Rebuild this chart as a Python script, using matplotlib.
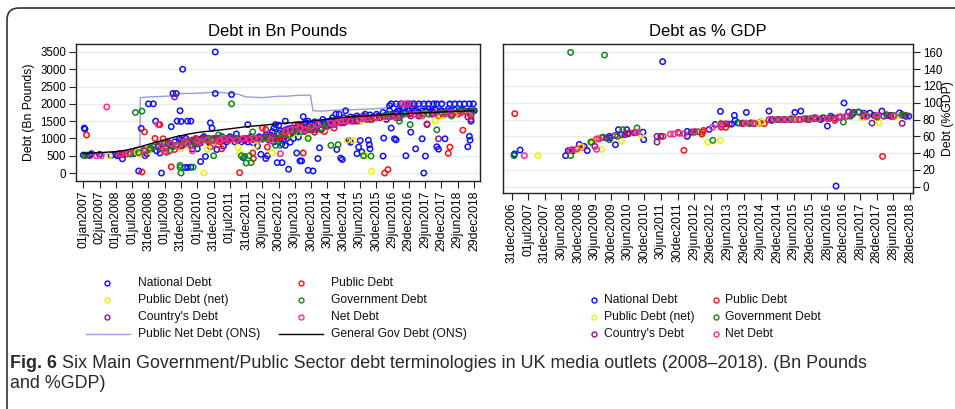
import numpy as np
import pandas as pd
import matplotlib
matplotlib.use('Agg')
import matplotlib.pyplot as plt
from matplotlib.lines import Line2D
from matplotlib.patches import FancyBboxPatch

plt.rcParams['font.family'] = ['Liberation Sans', 'DejaVu Sans']

# ---- data (decimal years) ----
left_ticks = ['01jan2007', '02jul2007', '01jan2008', '01jul2008', '31dec2008', '01jul2009',
              '31dec2009', '01jul2010', '31dec2010', '01jul2011', '31dec2011', '30jun2012',
              '30dec2012', '30jun2013', '30dec2013', '30jun2014', '30dec2014', '30jun2015',
              '30dec2015', '29jun2016', '29dec2016', '29jun2017', '29dec2017', '29jun2018',
              '29dec2018']
right_ticks = ['31dec2006', '01jul2007', '31dec2007', '30jun2008', '30dec2008', '30jun2009',
               '30dec2009', '30jun2010', '30dec2010', '30jun2011', '30dec2011', '29jun2012',
               '29dec2012', '29jun2013', '29dec2013', '29jun2014', '29dec2014', '29jun2015',
               '29dec2015', '28jun2016', '28dec2016', '28jun2017', '28dec2017', '28jun2018',
               '28dec2018']

# Debt in Bn Pounds
bn_national = [
    (2007.03, 1300), (2007.05, 1270), (2007.0, 520), (2007.2, 520), (2007.25, 560), (2007.5, 540),
    (2007.85, 510), (2008.0, 530), (2008.05, 500), (2008.15, 530), (2008.2, 410), (2008.45, 550),
    (2008.55, 560), (2008.7, 60), (2008.78, 1290), (2008.85, 640), (2008.95, 560), (2009.0, 2000),
    (2009.15, 2000), (2009.22, 1500), (2009.33, 1400), (2009.4, 0), (2009.35, 580), (2009.5, 760),
    (2009.6, 830), (2009.7, 1340), (2009.75, 2300), (2009.85, 2300), (2009.88, 1500), (2009.95, 1000),
    (2009.97, 1800), (2010.0, 1490), (2010.05, 3000), (2010.1, 870), (2010.12, 160), (2010.2, 1500),
    (2010.2, 160), (2010.3, 1500), (2010.3, 170), (2010.35, 700), (2010.4, 850), (2010.5, 700),
    (2010.55, 940), (2010.6, 330), (2010.7, 1000), (2010.75, 480), (2010.85, 900), (2010.9, 1450),
    (2010.95, 1300), (2011.05, 3500), (2011.05, 2300), (2011.1, 680), (2011.15, 950), (2011.3, 780),
    (2011.4, 900), (2011.55, 2270), (2011.7, 1130), (2011.85, 900), (2011.9, 450), (2012.05, 1400),
    (2012.1, 1000), (2012.2, 880), (2012.35, 780), (2012.45, 540), (2012.6, 420), (2012.65, 500),
    (2012.7, 950), (2012.8, 1200), (2012.85, 1300), (2012.9, 1400), (2012.95, 300), (2013.0, 1380),
    (2013.05, 1220), (2013.1, 300), (2013.15, 980), (2013.2, 1500), (2013.3, 110), (2013.35, 890),
    (2013.45, 1250), (2013.55, 580), (2013.6, 1040), (2013.65, 350), (2013.7, 350), (2013.75, 1630),
    (2013.85, 1450), (2013.9, 80), (2013.95, 1350), (2014.05, 60), (2014.1, 1480), (2014.2, 420),
    (2014.25, 730), (2014.3, 1300), (2014.45, 1380), (2014.6, 1520), (2014.75, 1700), (2014.78, 680),
    (2014.85, 1700), (2014.9, 430), (2014.95, 390), (2015.05, 1800), (2015.15, 940), (2015.2, 890),
    (2015.25, 1500), (2015.4, 560), (2015.45, 750), (2015.5, 940), (2015.55, 610), (2015.65, 1700),
    (2015.75, 950), (2015.78, 820), (2015.8, 700), (2015.85, 1600), (2016.2, 490), (2016.22, 1010),
    (2016.3, 1550), (2016.4, 1950), (2016.45, 2000), (2016.45, 1300), (2016.55, 990), (2016.6, 960),
    (2016.7, 1800), (2016.85, 1900), (2016.9, 500), (2017.0, 2000), (2017.05, 1180), (2017.1, 1850),
    (2017.2, 700), (2017.3, 2000), (2017.4, 990), (2017.45, 0), (2017.5, 490), (2017.6, 2000),
    (2017.7, 1800), (2017.85, 760), (2017.9, 690), (2018.0, 2000), (2018.1, 990), (2018.2, 1850),
    (2018.4, 2000), (2018.55, 1800), (2018.7, 2000), (2018.8, 760), (2018.85, 1060), (2018.87, 950),
    (2018.9, 1500), (2018.95, 1780), (2018.97, 2000),
    (2009.3, 750), (2009.45, 820), (2009.6, 880), (2009.8, 900), (2010.0, 950), (2010.15, 1000),
    (2010.35, 950), (2010.5, 980), (2010.7, 1050), (2010.85, 1000), (2011.0, 1000), (2011.2, 960),
    (2011.35, 1000), (2011.5, 1050), (2011.65, 900), (2011.8, 980), (2012.0, 1000), (2012.15, 1050),
    (2012.3, 1000), (2012.5, 980), (2012.6, 1050), (2012.75, 1100), (2012.85, 900), (2013.0, 1150),
    (2013.1, 1100), (2013.2, 1200), (2013.3, 1280), (2013.4, 1200), (2013.5, 1300), (2013.6, 1400),
    (2013.7, 1350), (2013.8, 1450), (2013.9, 1500), (2014.0, 1400), (2014.1, 1380), (2014.2, 1450),
    (2014.35, 1550), (2014.5, 1480), (2014.65, 1600), (2014.8, 1550), (2015.0, 1600), (2015.2, 1620),
    (2015.4, 1650), (2015.6, 1600), (2015.8, 1680), (2016.0, 1700), (2016.2, 1750), (2016.4, 1800),
    (2016.6, 1750), (2016.8, 1850), (2017.0, 1800), (2017.2, 1830), (2017.4, 1800), (2017.6, 1850),
    (2017.8, 1820), (2018.0, 1800), (2018.2, 1780), (2018.4, 1820), (2018.6, 1800), (2018.8, 1790),
    (2019.0, 1800), (2013.1, 850), (2013.2, 800), (2012.9, 1000), (2013.0, 900), (2013.15, 1050),
    (2009.1, 700), (2009.25, 640), (2009.4, 700), (2009.55, 720), (2009.65, 800), (2009.75, 760),
    (2009.9, 820), (2010.05, 900), (2010.25, 880), (2010.4, 920), (2010.6, 870), (2010.65, 1000),
    (2010.8, 950), (2010.95, 900), (2011.05, 1000), (2011.15, 1000), (2011.25, 1050), (2011.45, 950),
    (2011.6, 1000), (2011.75, 950), (2011.95, 950), (2012.05, 900), (2012.25, 950), (2012.4, 1050),
    (2012.55, 1000), (2012.7, 1000), (2012.8, 1050), (2012.95, 1000), (2013.05, 1000), (2013.15, 1200),
    (2013.25, 1100), (2013.35, 1150), (2013.4, 1300), (2013.45, 1000), (2013.55, 1200), (2013.65, 1250),
    (2013.75, 1300), (2013.8, 1200), (2013.95, 1250), (2014.05, 1350), (2014.15, 1300), (2014.25, 1400),
    (2014.4, 1450), (2014.55, 1400), (2014.7, 1500), (2014.9, 1450), (2015.0, 1500), (2015.1, 1550),
    (2015.3, 1600), (2015.45, 1600), (2015.6, 1650), (2015.7, 1580), (2015.9, 1600), (2016.05, 1650),
    (2016.15, 1600), (2016.3, 1680), (2016.5, 1700), (2016.65, 1800), (2016.75, 1700), (2016.9, 1750),
    (2017.05, 1720), (2017.15, 1800), (2017.3, 1750), (2017.5, 1800), (2017.65, 1780), (2017.75, 1750),
    (2017.95, 1800), (2018.1, 1760), (2018.3, 1800), (2018.5, 1760), (2018.65, 1820), (2018.75, 1780),
    (2018.9, 1800), (2016.6, 2000), (2016.75, 2000), (2017.15, 2000), (2017.45, 2000), (2017.75, 2000),
    (2017.85, 2000), (2018.25, 2000), (2018.55, 2000), (2018.85, 2000),
]
bn_public = [
    (2007.1, 1100), (2008.1, 560), (2008.3, 540), (2008.6, 620), (2008.8, 30), (2008.85, 650),
    (2008.88, 1190), (2009.05, 680), (2009.2, 1000), (2009.35, 1400), (2009.45, 990), (2009.55, 600),
    (2009.6, 900), (2009.7, 180), (2009.8, 680), (2009.9, 820), (2010.15, 930), (2010.3, 870),
    (2010.45, 1000), (2010.55, 900), (2010.7, 1000), (2010.9, 760), (2011.0, 1000), (2011.2, 900),
    (2011.25, 700), (2011.5, 1000), (2011.7, 1000), (2011.8, 10), (2011.9, 980), (2012.1, 1000),
    (2012.2, 580), (2012.22, 420), (2012.4, 1000), (2012.5, 1300), (2012.6, 1260), (2012.65, 750),
    (2012.8, 1050), (2013.0, 1000), (2013.2, 1100), (2013.4, 1200), (2013.6, 1350), (2013.65, 1400),
    (2013.75, 580), (2013.9, 1300), (2014.1, 1250), (2014.4, 1200), (2014.7, 1300), (2015.5, 1500),
    (2015.6, 1600), (2016.25, 0), (2016.35, 100), (2016.6, 1600), (2017.0, 1700), (2017.55, 1420),
    (2017.9, 1650), (2018.2, 570), (2018.25, 750), (2018.5, 1700), (2018.65, 1240), (2018.9, 1650),
    (2010.9, 900), (2011.1, 950), (2011.35, 980), (2011.6, 1000), (2012.0, 1000), (2012.3, 950),
    (2012.55, 1000), (2012.7, 1000), (2012.9, 980), (2013.1, 1050), (2013.3, 1100), (2013.5, 1250),
    (2014.0, 1250), (2014.3, 1300), (2015.0, 1500), (2015.8, 1550), (2016.4, 1620), (2017.3, 1700),
    (2018.0, 1720),
]
bn_public_net = [
    (2007.8, 500), (2008.65, 600), (2008.75, 530), (2009.0, 620), (2009.5, 800), (2010.0, 700),
    (2010.25, 760), (2010.7, 0), (2010.8, 690), (2011.75, 750), (2011.8, 580), (2012.8, 590),
    (2012.3, 800), (2013.4, 1100), (2013.9, 1050), (2014.4, 1280), (2015.1, 950), (2015.3, 940),
    (2015.5, 1500), (2015.65, 500), (2015.85, 50), (2016.2, 1600), (2017.2, 1700), (2017.8, 1500),
    (2018.0, 1650), (2018.4, 1680), (2018.8, 1700),
    (2011.0, 900), (2012.6, 1000), (2013.6, 1150), (2014.9, 1500), (2015.9, 1550), (2016.6, 1650),
    (2017.5, 1720), (2018.2, 1700),
]
bn_government = [
    (2007.05, 500), (2007.1, 520), (2008.45, 560), (2008.6, 1750), (2008.8, 1790), (2008.7, 590),
    (2008.9, 650), (2009.05, 720), (2009.15, 760), (2009.3, 780), (2009.5, 850), (2009.65, 640),
    (2009.85, 800), (2009.97, 220), (2009.97, 160), (2010.0, 0), (2010.05, 800), (2010.2, 860),
    (2010.37, 170), (2010.5, 840), (2010.95, 950), (2011.0, 500), (2011.15, 1100), (2011.25, 1060),
    (2011.55, 2000), (2011.85, 500), (2011.95, 480), (2012.0, 290), (2012.1, 500), (2012.15, 300),
    (2012.2, 1190), (2012.35, 1000), (2012.6, 1000), (2012.9, 800), (2013.05, 800), (2013.3, 1100),
    (2013.5, 1250), (2013.7, 1200), (2013.9, 1000), (2014.0, 1280), (2014.3, 1300), (2014.6, 800),
    (2014.82, 820), (2014.8, 1500), (2015.1, 1560), (2015.3, 1500), (2015.6, 500), (2015.83, 490),
    (2016.0, 1600), (2016.4, 1700), (2016.7, 1500), (2017.03, 1400), (2017.3, 1650), (2017.6, 1700),
    (2017.85, 1250), (2018.0, 1750), (2018.3, 1650), (2018.7, 1780), (2018.95, 1790),
    (2009.4, 700), (2009.75, 780), (2010.1, 850), (2010.3, 900), (2010.65, 950), (2010.85, 1000),
    (2011.4, 980), (2011.7, 1000), (2012.45, 1000), (2012.7, 1050), (2012.95, 1100), (2013.15, 1150),
    (2013.45, 1200), (2013.85, 1250), (2014.15, 1300), (2014.45, 1400), (2015.25, 1520), (2015.75, 1600),
    (2016.2, 1650), (2016.85, 1700), (2017.45, 1720), (2018.15, 1760), (2018.55, 1790),
]
bn_country = [
    (2007.2, 500), (2008.2, 530), (2008.9, 500), (2009.3, 800), (2009.8, 2200), (2009.6, 850),
    (2010.0, 780), (2010.6, 900), (2011.1, 1000), (2011.6, 1000), (2012.0, 980), (2012.6, 1100),
    (2013.2, 1250), (2013.6, 1350), (2014.1, 1180), (2014.5, 1350), (2015.0, 1450), (2015.2, 1550),
    (2015.4, 1500), (2015.7, 1550), (2016.0, 1600), (2016.5, 1650), (2016.9, 2000), (2017.1, 2000),
    (2017.3, 1650), (2017.55, 1400), (2017.9, 990), (2018.3, 1700), (2018.8, 1620), (2018.9, 1550),
    (2010.3, 800), (2010.8, 950), (2011.4, 980), (2012.3, 1000), (2012.85, 1050), (2013.4, 1200),
    (2013.85, 1300), (2014.3, 1250), (2014.7, 1400), (2015.1, 1500), (2015.3, 1520), (2015.55, 1580),
    (2015.85, 1550), (2016.1, 1600), (2016.3, 1640), (2016.7, 1600), (2017.05, 1650), (2017.7, 1700),
    (2018.1, 1720), (2018.6, 1750),
]
bn_net = [
    (2007.4, 500), (2007.55, 500), (2007.72, 1910), (2008.15, 550), (2008.4, 580), (2008.85, 680),
    (2009.3, 1400), (2009.4, 780), (2009.5, 630), (2009.7, 850), (2010.1, 900), (2010.35, 640),
    (2010.5, 930), (2011.0, 850), (2011.3, 1000), (2011.9, 1000), (2012.1, 960), (2012.4, 980),
    (2013.05, 560), (2013.2, 1200), (2013.5, 1400), (2013.8, 1250), (2014.2, 1400), (2014.6, 1450),
    (2014.9, 1500), (2015.2, 1500), (2015.45, 1550), (2015.7, 1580), (2016.3, 1620), (2016.8, 2000),
    (2016.95, 2000), (2017.4, 1650), (2018.1, 1700), (2018.6, 1750),
    (2009.9, 780), (2010.2, 850), (2010.6, 900), (2010.8, 950), (2011.2, 950), (2011.5, 950),
    (2011.7, 950), (2012.25, 1000), (2012.75, 960), (2013.35, 1250), (2013.65, 1300), (2014.0, 1350),
    (2014.8, 1450), (2015.05, 1520), (2015.6, 1600), (2016.0, 1600), (2016.6, 1650), (2017.2, 1700),
    (2017.8, 1720), (2018.3, 1760), (2018.85, 1700),
]

ons_net_years = [2007.0, 2007.25, 2007.5, 2007.75, 2008.0, 2008.25, 2008.5, 2008.74, 2008.75, 2009.0,
                 2009.25, 2009.5, 2009.75, 2009.98, 2010.25, 2010.5, 2010.75, 2011.0, 2011.25, 2011.5,
                 2011.75, 2012.0, 2012.25, 2012.5, 2012.75, 2013.0, 2013.25, 2013.5, 2013.75, 2013.97,
                 2014.05, 2014.3, 2014.5, 2014.75, 2015.0, 2015.25, 2015.5, 2015.75, 2016.0, 2016.25,
                 2016.4, 2016.5, 2016.75, 2017.0, 2017.25, 2017.5, 2017.75, 2018.0, 2018.25, 2018.5,
                 2018.75, 2019.0]
ons_net = [520, 530, 540, 560, 600, 640, 700, 760, 2180, 2200, 2210, 2220, 2230, 2300, 2300, 2310,
           2320, 2330, 2330, 2300, 2280, 2200, 2190, 2180, 2200, 2220, 2220, 2240, 2250, 2250, 1800,
           1790, 1800, 1820, 1820, 1830, 1840, 1850, 1860, 1880, 1890, 1990, 2000, 2010, 2010, 2020,
           2030, 2040, 2040, 2050, 2060, 2070]
ons_gov_years = [2007.0, 2007.5, 2008.0, 2008.25, 2008.5, 2008.75, 2009.0, 2009.25, 2009.5, 2009.75,
                 2010.0, 2010.25, 2010.5, 2010.75, 2011.0, 2011.5, 2012.0, 2012.5, 2013.0, 2013.5,
                 2014.0, 2014.5, 2015.0, 2015.5, 2016.0, 2016.5, 2017.0, 2017.5, 2018.0, 2018.5, 2019.0]
ons_gov = [570, 590, 620, 650, 700, 760, 830, 900, 960, 1030, 1080, 1130, 1170, 1200, 1220, 1280,
           1340, 1380, 1430, 1460, 1500, 1560, 1610, 1640, 1670, 1700, 1720, 1745, 1765, 1785, 1800]

# Debt as % GDP
pc_national = [
    (2007.07, 38), (2007.08, 39), (2007.25, 43.7), (2008.62, 37), (2008.7, 43), (2008.85, 43),
    (2009.03, 50.4), (2009.18, 48), (2009.27, 43), (2009.94, 60), (2009.96, 58), (2010.12, 50),
    (2010.21, 68), (2010.3, 62), (2010.46, 68), (2010.5, 63), (2010.69, 64.3), (2010.95, 65),
    (2010.97, 56), (2011.54, 149), (2012.28, 65.9), (2012.28, 60), (2012.5, 65), (2012.94, 68.3),
    (2013.12, 74.2), (2013.28, 89.7), (2013.35, 74), (2013.62, 74.6), (2013.7, 85), (2013.72, 79),
    (2013.8, 76), (2014.06, 88.5), (2014.2, 76), (2014.5, 77), (2014.74, 90.1), (2014.82, 79),
    (2014.84, 80), (2015.0, 80), (2015.52, 88.5), (2015.7, 90.1), (2015.95, 80), (2016.3, 80),
    (2016.5, 72.3), (2016.76, 0.8), (2017.0, 99.7), (2017.14, 89), (2017.25, 86), (2017.3, 88.5),
    (2017.45, 88.9), (2017.6, 87.5), (2017.78, 87.7), (2017.9, 85), (2018.14, 90.1), (2018.3, 85),
    (2018.5, 84), (2018.67, 88), (2018.75, 86), (2018.87, 84.2),
    (2015.2, 80), (2015.4, 80), (2016.0, 81), (2016.15, 82), (2016.6, 84), (2016.9, 83),
    (2017.55, 84), (2018.4, 84), (2018.95, 84),
]
pc_public = [
    (2007.09, 87), (2008.93, 44.5), (2009.12, 47), (2010.54, 64.3), (2011.55, 60), (2012.18, 43.3),
    (2012.72, 62.7), (2012.77, 67), (2012.74, 65), (2013.3, 71), (2013.44, 75), (2013.44, 70.7),
    (2013.95, 75), (2014.25, 75.5), (2014.45, 75.8), (2014.6, 75), (2014.74, 79.8), (2015.9, 80),
    (2016.7, 80.2), (2016.72, 79), (2017.26, 87.3), (2017.95, 84), (2018.16, 36.1), (2018.45, 84),
    (2018.85, 85),
]
pc_public_net = [
    (2007.79, 37), (2008.97, 44), (2009.09, 47.6), (2009.45, 54.8), (2009.71, 44.5), (2009.6, 58),
    (2010.3, 54), (2010.89, 61), (2012.9, 53.2), (2013.28, 55.2), (2013.28, 76), (2014.38, 75.8),
    (2014.52, 77), (2015.6, 80), (2016.1, 82), (2016.6, 81), (2017.55, 82), (2018.05, 76.2),
    (2018.6, 84),
]
pc_government = [
    (2007.07, 37), (2008.77, 160), (2008.77, 37), (2009.38, 53.2), (2009.4, 53), (2009.71, 58.4),
    (2009.75, 59), (2009.79, 156.8), (2009.94, 55.9), (2010.18, 60), (2010.34, 68), (2010.77, 70),
    (2012.43, 65.1), (2012.6, 65.5), (2013.05, 55.2), (2013.84, 75.8), (2014.15, 75), (2015.0, 80),
    (2015.4, 81), (2015.9, 81), (2016.4, 82), (2016.98, 77), (2017.43, 89), (2017.7, 84),
    (2018.0, 83), (2018.28, 85.8), (2018.5, 85), (2018.75, 85),
    (2015.2, 80), (2015.65, 80), (2016.1, 81), (2016.6, 82), (2017.2, 84), (2018.85, 85),
]
pc_country = [
    (2008.8, 44), (2009.5, 48), (2009.85, 58), (2010.11, 61), (2010.4, 62), (2010.48, 63),
    (2011.37, 60), (2011.37, 53.2), (2011.48, 60), (2012.01, 64.7), (2012.4, 65), (2013.3, 75),
    (2013.55, 74.5), (2013.95, 75.8), (2014.3, 75), (2015.2, 80), (2015.5, 80), (2015.8, 81),
    (2016.1, 82), (2016.35, 82), (2016.55, 81.5), (2017.1, 84), (2017.6, 85), (2017.84, 75.8),
    (2018.2, 84), (2018.4, 85), (2018.75, 75.4), (2018.85, 84),
    (2015.05, 80), (2015.65, 80), (2016.7, 82), (2016.85, 83),
]
pc_net = [
    (2007.38, 37), (2008.75, 43), (2008.97, 45), (2009.55, 44.5), (2009.55, 56.8), (2009.63, 56.8),
    (2010.78, 65), (2010.75, 64.5), (2011.77, 62.7), (2011.87, 62.7), (2012.05, 63.5), (2012.19, 63),
    (2012.51, 66), (2013.04, 70.7), (2013.28, 73), (2014.04, 75.8), (2014.3, 75.8), (2014.9, 80),
    (2015.3, 80), (2015.7, 80), (2016.2, 81), (2016.5, 81), (2016.75, 80), (2017.05, 84),
    (2017.65, 84), (2018.0, 85), (2018.5, 84),
    (2015.1, 80), (2015.5, 80), (2016.0, 81), (2016.9, 83),
]

names = ['National Debt', 'Public Debt', 'Public Debt (net)', 'Government Debt', "Country's Debt", 'Net Debt']
colors = ['#1010ff', '#ff1010', '#f0f000', '#108a10', '#8a1a8a', '#ff2a8a']
bn_series = [bn_national, bn_public, bn_public_net, bn_government, bn_country, bn_net]
pc_series = [pc_national, pc_public, pc_public_net, pc_government, pc_country, pc_net]
color_of = dict(zip(names, colors))


def dec_year(labels):
    d = pd.to_datetime(labels, format='%d%b%Y')
    return d.year + (d.dayofyear - 1) / 365.25


W, H = 955, 409
fig = plt.figure(figsize=(W / 100, H / 100), dpi=100)

ax1 = fig.add_axes([76 / W, 1 - 181 / H, 404 / W, 137 / H])
ax2 = fig.add_axes([503 / W, 1 - 193 / H, 410 / W, 149 / H])

for ax in (ax1, ax2):
    ax.set_facecolor('white')
    for s in ax.spines.values():
        s.set_linewidth(1.0)
        s.set_color('#222222')
    ax.grid(axis='y', color='#e6eeee', linewidth=1.0)
    ax.set_axisbelow(True)
    ax.tick_params(axis='both', length=5, width=0.8, color='#222222', labelsize=8.3, pad=2)

for pts, c in zip(bn_series, colors):
    xs, ys = zip(*pts)
    ax1.scatter(xs, ys, s=15, facecolors='none', edgecolors=c, linewidths=1.1, zorder=3)
ax1.plot(ons_net_years, ons_net, color='#9a9ae0', lw=1.0, zorder=2)
ax1.plot(ons_gov_years, ons_gov, color='black', lw=1.0, zorder=4)

for pts, c in zip(pc_series, colors):
    xs, ys = zip(*pts)
    ax2.scatter(xs, ys, s=15, facecolors='none', edgecolors=c, linewidths=1.1, zorder=3)

ax1.set_xlim(2006.776, 2019.175)
ax1.set_ylim(-230, 3730)
ax1.set_yticks(range(0, 3501, 500))
ax1.set_xticks(dec_year(left_ticks))
ax1.set_xticklabels(left_ticks, rotation=90, fontsize=8.8)
ax1.set_ylabel('Debt (Bn Pounds)', fontsize=8.8, labelpad=4)
ax1.set_title('Debt in Bn Pounds', fontsize=12, pad=6)

ax2.set_xlim(2006.735, 2019.076)
ax2.set_ylim(-7.5, 170)
ax2.set_yticks(range(0, 161, 20))
ax2.set_xticks(dec_year(right_ticks))
ax2.set_xticklabels(right_ticks, rotation=90, fontsize=8.8)
ax2.yaxis.tick_right()
ax2.yaxis.set_label_position('right')
ax2.set_ylabel('Debt (%GDP)', fontsize=8.8)
ax2.yaxis.set_label_coords((942 - 503) / 410, 0.5)
ax2.set_title('Debt as % GDP', fontsize=12, pad=6)


# legends, laid out by hand (pixel positions from the reference)
def fx(px):
    return px / W


def fy(py):
    return 1 - py / H


def entry(mx, tx, y, label, color=None, line=None):
    if line is not None:
        fig.add_artist(Line2D([fx(line[0]), fx(line[1])], [fy(y), fy(y)], color=line[2], lw=1.0,
                              transform=fig.transFigure))
    else:
        fig.add_artist(Line2D([fx(mx)], [fy(y)], marker='o', linestyle='none', markersize=3.6,
                              markerfacecolor='none', markeredgecolor=color, markeredgewidth=1.0,
                              transform=fig.transFigure))
    fig.text(fx(tx), fy(y), label, fontsize=8.7, va='center', ha='left', color='#111111')


rows = [283, 300, 317, 334]
entry(107, 138, rows[0], 'National Debt', color_of['National Debt'])
entry(107, 138, rows[1], 'Public Debt (net)', color_of['Public Debt (net)'])
entry(107, 138, rows[2], "Country's Debt", color_of["Country's Debt"])
entry(107, 138, rows[3], 'Public Net Debt (ONS)', line=(86, 130, '#9a9ae0'))
entry(301, 331, rows[0], 'Public Debt', color_of['Public Debt'])
entry(301, 331, rows[1], 'Government Debt', color_of['Government Debt'])
entry(301, 331, rows[2], 'Net Debt', color_of['Net Debt'])
entry(301, 331, rows[3], 'General Gov Debt (ONS)', line=(279, 323, 'black'))

rrows = [300, 317, 334]
entry(594, 603.5, rrows[0], 'National Debt', color_of['National Debt'])
entry(594, 603.5, rrows[1], 'Public Debt (net)', color_of['Public Debt (net)'])
entry(594, 603.5, rrows[2], "Country's Debt", color_of["Country's Debt"])
entry(716, 725, rrows[0], 'Public Debt', color_of['Public Debt'])
entry(716, 725, rrows[1], 'Government Debt', color_of['Government Debt'])
entry(716, 725, rrows[2], 'Net Debt', color_of['Net Debt'])

# caption
cap_rest = ' Six Main Government/Public Sector debt terminologies in UK media outlets (2008\u20132018). (Bn Pounds'
cap_color = '#2a2a2a'
cap_size = 12.9
t_bold = fig.text(fx(10), fy(363), 'Fig. 6', fontsize=cap_size, fontweight='bold',
                  color=cap_color, va='center', ha='left')
t_rest = fig.text(fx(40), fy(363), cap_rest, fontsize=cap_size, color=cap_color,
                  va='center', ha='left')
fig.text(fx(10), fy(383), 'and %GDP)', fontsize=cap_size, color=cap_color, va='center', ha='left')
fig.canvas.draw()
wb = t_bold.get_window_extent(fig.canvas.get_renderer()).width
t_rest.set_x(fx(10 + wb))

# rounded frame around the figure
frame = FancyBboxPatch((0.07, -0.3), 10.0, 4.01 + 0.3, boxstyle='round,pad=0,rounding_size=0.12',
                       transform=fig.dpi_scale_trans, fill=False, edgecolor='#333333', lw=1.2)
fig.patches.append(frame)

fig.savefig('out.png', dpi=100)
